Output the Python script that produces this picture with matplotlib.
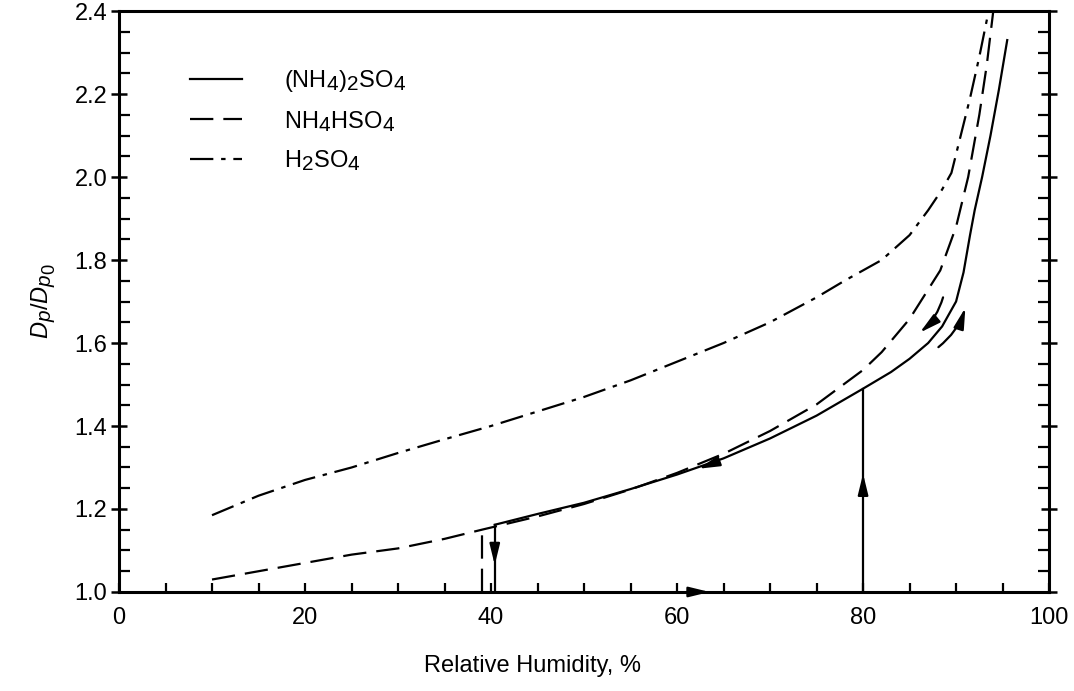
import matplotlib
matplotlib.use('Agg')
import matplotlib.pyplot as plt
from matplotlib.ticker import MultipleLocator
import matplotlib._mathtext as mt

# bigger subscripts, like the original figure
mt.SHRINK_FACTOR = 0.88

plt.rcParams['font.family'] = ['Liberation Sans', 'DejaVu Sans']
plt.rcParams['mathtext.fontset'] = 'custom'
plt.rcParams['mathtext.rm'] = 'Liberation Sans'
plt.rcParams['mathtext.it'] = 'Liberation Sans:italic'
plt.rcParams['mathtext.bf'] = 'Liberation Sans:bold'

# (NH4)2SO4 - efflorescence branch + deliquescence jump at 80 %
rh_as = [40.4, 45, 50, 55, 60, 65, 70, 75, 80, 83, 85, 87, 88.5, 90, 90.8, 91.5, 92, 92.8, 93.7, 94.6, 95.5]
dp_as = [1.162, 1.188, 1.215, 1.248, 1.283, 1.322, 1.37, 1.425, 1.49, 1.53, 1.562, 1.60, 1.64, 1.70, 1.77, 1.86, 1.92, 2.0, 2.1, 2.21, 2.33]
rh_as_drop = 40.4
rh_as_rise = 80
dp_as_rise_top = 1.49

# NH4HSO4
rh_ab = [10, 15, 20, 25, 30, 35, 39, 45, 50, 55, 60, 65, 70, 75, 80, 82, 85, 88.3, 90, 91.3, 92.5, 93.3, 94.0]
dp_ab = [1.03, 1.05, 1.07, 1.09, 1.105, 1.128, 1.15, 1.182, 1.212, 1.247, 1.287, 1.333, 1.388, 1.452, 1.535, 1.578, 1.658, 1.775, 1.88, 2.0, 2.15, 2.27, 2.40]
rh_ab_drop = 39
dp_ab_drop_top = 1.15

# H2SO4
rh_h = [10, 15, 20, 25, 30, 35, 40, 45, 50, 55, 60, 65, 70, 75, 78, 82, 85, 87, 88.5, 89.5, 90.5, 91.5, 92.5, 93.5]
dp_h = [1.185, 1.232, 1.27, 1.30, 1.335, 1.368, 1.40, 1.435, 1.47, 1.51, 1.555, 1.60, 1.65, 1.71, 1.75, 1.80, 1.86, 1.92, 1.97, 2.01, 2.10, 2.19, 2.29, 2.40]

labels = [r'(NH$_4$)$_2$SO$_4$', r'NH$_4$HSO$_4$', r'H$_2$SO$_4$']

fig = plt.figure(figsize=(10.74, 6.91), dpi=100)
ax = fig.add_axes([0.1108, 0.1433, 0.866, 0.8407])

lw = 1.6
dash = (0, (10.5, 4.5))
dashdot = (0, (10.5, 3.5, 2, 3.5))

ax.plot(rh_as, dp_as, color='k', lw=lw, label=labels[0])
ax.plot([rh_as_drop, rh_as_drop], [1.0, dp_as[0]], color='k', lw=lw)
ax.plot([rh_as_rise, rh_as_rise], [1.0, dp_as_rise_top], color='k', lw=lw)

ax.plot(rh_ab, dp_ab, color='k', lw=lw, linestyle=dash, label=labels[1])
ax.plot([rh_ab_drop, rh_ab_drop], [1.0, dp_ab_drop_top], color='k', lw=lw, linestyle=dash)

ax.plot(rh_h, dp_h, color='k', lw=lw, linestyle=dashdot, label=labels[2])

# direction arrows
aprops = dict(arrowstyle='-|>,head_length=0.9,head_width=0.22', color='k', lw=lw,
              shrinkA=0, shrinkB=0, mutation_scale=14)
ax.annotate('', xy=(40.4, 1.065), xytext=(40.4, 1.10), arrowprops=aprops)
ax.annotate('', xy=(80, 1.285), xytext=(80, 1.24), arrowprops=aprops)
ax.annotate('', xy=(63.5, 1.0), xytext=(61, 1.0), arrowprops=aprops)
ax.annotate('', xy=(62.3, 1.297), xytext=(64.5, 1.315), arrowprops=aprops)
ax.annotate('', xy=(86.1, 1.625), xytext=(88.6, 1.71),
            arrowprops=dict(aprops, connectionstyle='arc3,rad=-0.15'))
ax.annotate('', xy=(91.0, 1.685), xytext=(88.1, 1.59),
            arrowprops=dict(aprops, connectionstyle='arc3,rad=0.15'))

ax.set_xlim(0, 100)
ax.set_ylim(1.0, 2.4)
ax.xaxis.set_major_locator(MultipleLocator(20))
ax.xaxis.set_minor_locator(MultipleLocator(5))
ax.yaxis.set_major_locator(MultipleLocator(0.2))
ax.yaxis.set_minor_locator(MultipleLocator(0.05))
ax.yaxis.set_major_formatter(plt.FormatStrFormatter('%.1f'))

for s in ax.spines.values():
    s.set_linewidth(2.2)
ax.tick_params(axis='x', which='both', direction='in', length=6.5, width=1.6,
               top=False, labelsize=17, pad=11)
ax.tick_params(axis='y', which='major', direction='inout', length=11, width=1.8,
               right=True, labelsize=17, pad=3)
ax.tick_params(axis='y', which='minor', direction='in', length=8, width=1.6, right=True)

ax.set_xlabel('Relative Humidity, %', fontsize=17)
ax.xaxis.set_label_coords(0.445, -0.108)
ax.set_ylabel(r'$D_p/D_{p_\mathit{0}}$', fontsize=17, labelpad=12)

ax.legend(loc='upper left', bbox_to_anchor=(0.076, 0.902), frameon=False,
          fontsize=17, handlelength=2.2, handletextpad=1.8, labelspacing=0.62,
          borderpad=0, borderaxespad=0)

plt.savefig('out.png', dpi=100)
